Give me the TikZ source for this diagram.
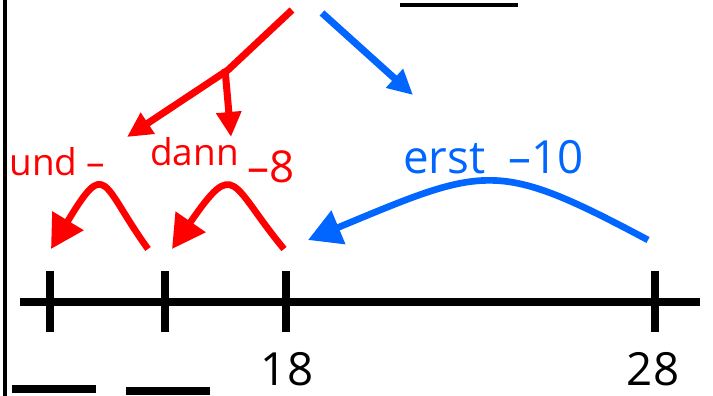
\documentclass[tikz,border=0pt]{standalone}
\usepackage{fontspec}
\setmainfont{Open Sans}
\usepackage{xcolor}
\usepackage{tikz}
\usetikzlibrary{arrows.meta}
\definecolor{HopRed}{RGB}{255,0,0}
\definecolor{HopBlue}{RGB}{0,102,255}

\begin{document}
\begin{tikzpicture}[x=2cm, y=2cm,
    jump/.style={line width=4pt, -{Triangle[length=0.5cm, width=0.48cm]}},
    hop/.style={line width=3.8pt, -{Triangle[length=0.66cm, width=0.7cm]}},
    numtick/.style={line width=4.5pt},
    blank/.style={line width=4.5pt},
    wordlabel/.style={font=\fontsize{21}{24}\selectfont, inner sep=0pt, anchor=base west},
    numlabel/.style={font=\fontsize{26}{30}\selectfont, inner sep=0pt, anchor=base}]
        \useasboundingbox (0,0) rectangle (7.13,3.96);

        % Left border and number line
        \draw[line width=2.3pt] (0.053,0) -- (0.053,3.96);
        \draw[line width=4pt] (0.20,0.94) -- (7.00,0.94);
        \foreach \x/\name in {0.50/t0, 1.65/t1, 2.86/t2, 6.55/t3}
          \draw[numtick] (\x,0.64) -- (\x,1.25) coordinate (\name);
        \node[numlabel] (n18) at (2.87,0.10) {18};
        \node[numlabel] (n28) at (6.53,0.10) {28};

        % Blanks to fill in
        \draw[blank] (0.12,0.07) -- (0.96,0.07);
        \draw[blank] (1.26,0.05) -- (2.10,0.05);
        \draw[line width=2.3pt] (4.00,3.91) -- (5.18,3.91);

        % Splitting arrows (red: two steps, blue: one step)
        \coordinate (rtop) at (2.92,3.86);
        \coordinate (rsplit) at (2.28,3.26);
        \coordinate (rsplitb) at (2.25,3.27);
        \coordinate (rund) at (1.27,2.59);
        \coordinate (rdann) at (2.31,2.59);
        \draw[HopRed, jump] (rtop) -- (rsplit) -- (rund);
        \draw[HopRed, jump] (rsplitb) -- (rdann);
        \coordinate (btop) at (3.22,3.83);
        \coordinate (bend) at (4.13,3.01);
        \draw[HopBlue, jump] (btop) -- (bend);

        % Step labels
        \node[wordlabel, HopRed] (und) at (0.09,2.20) {und --};
        \node[wordlabel, HopRed] (dann) at (1.50,2.30) {dann};
        \node[wordlabel, HopRed, font=\fontsize{25}{28}\selectfont] (minus8)
              at (2.47,2.13) {--8};
        \node[wordlabel, HopBlue, font=\fontsize{26}{30}\selectfont] (erst)
              at (4.03,2.22) {erst\hspace{0.5em}--10};

        % Hops along the number line
        \coordinate (h28) at (6.48,1.56);
        \coordinate (h18) at (3.08,1.56);
        \coordinate (s18) at (2.84,1.47);
        \coordinate (e10) at (1.72,1.47);
        \coordinate (s10) at (1.48,1.47);
        \coordinate (e00) at (0.51,1.47);
        \draw[HopBlue, hop] (h28) .. controls (4.96,2.37) and (4.86,2.30) .. (h18);
        \draw[HopRed, hop] (s18) .. controls (2.30,2.12) and (2.36,2.40) .. (e10);
        \draw[HopRed, hop] (s10) .. controls (1.01,2.12) and (1.07,2.40) .. (e00);
      \end{tikzpicture}
\end{document}
